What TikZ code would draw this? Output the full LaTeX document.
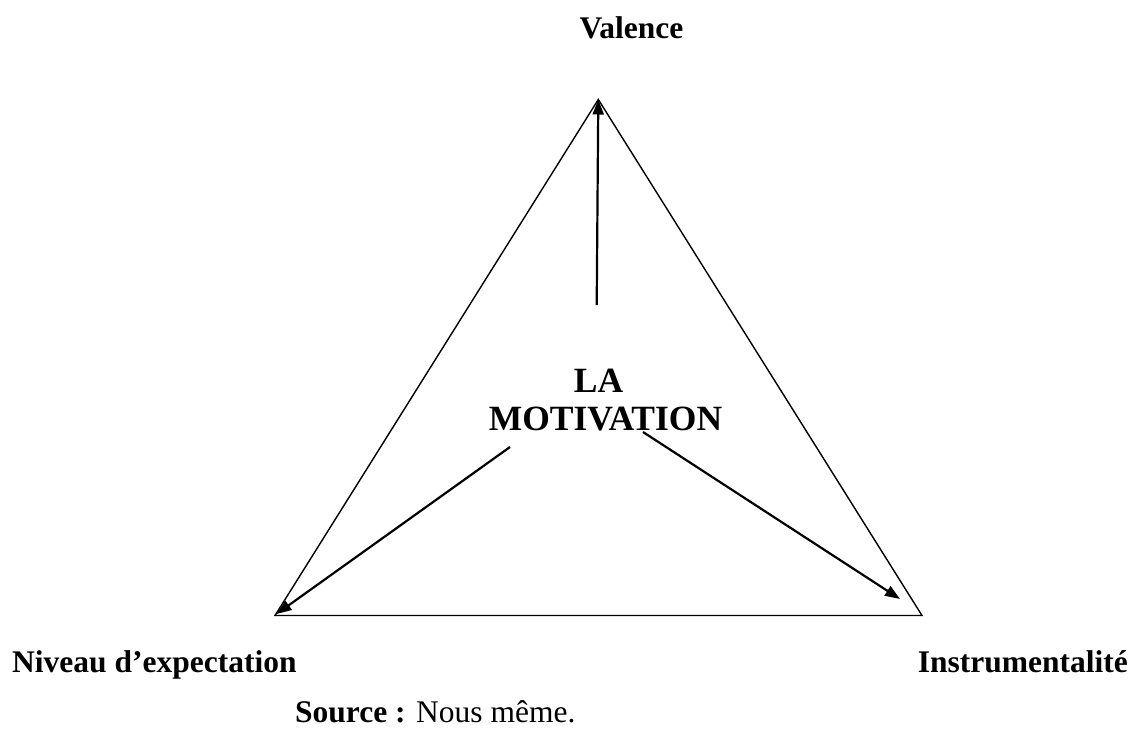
\documentclass[tikz,border=0pt]{standalone}
\usepackage{fontspec}
\setmainfont{Liberation Serif}
\usetikzlibrary{arrows.meta}
\begin{document}
\begin{tikzpicture}[x=1pt,y=-1pt,
  lbl/.style={inner sep=0pt,font=\fontsize{31.5}{38}\selectfont\bfseries},
  big/.style={inner sep=0pt,font=\fontsize{35.5}{38}\selectfont\bfseries},
  side/.style={line width=1.4pt},
  arr/.style={line width=2.2pt,-{Triangle[length=15pt,width=11pt]}}]
\useasboundingbox (0,0) rectangle (1133,729);
% triangle corners
\coordinate (top) at (598.3,99.5);
\coordinate (bl) at (275,615.5);
\coordinate (br) at (922,615.5);
\draw[side,line join=miter] (top) -- (br) -- (bl) -- cycle;
% arrow start points
\coordinate (s1) at (596.7,305);
\coordinate (s2) at (510,447);
\coordinate (s3) at (643,432);
\coordinate (t3) at (900,599);
\coordinate (t2) at (276.5,614);
\draw[arr] (s1) -- (top);
\draw[arr] (s2) -- (t2);
\draw[arr] (s3) -- (t3);
% labels
\node[lbl,anchor=base] (val) at (631.5,38) {Valence};
\node[lbl,anchor=base west] (niv) at (12,672) {Niveau d’expectation};
\node[lbl,anchor=base east] (ins) at (1128,672) {Instrumentalité};
\node[big,anchor=base] (la) at (598.5,392) {LA};
\node[big,anchor=base] (mot) at (605.5,430) {MOTIVATION};
\node[inner sep=0pt,anchor=base west,font=\fontsize{31.5}{38}\selectfont] (src) at (295,722) {\textbf{Source :} Nous même.};
\end{tikzpicture}
\end{document}
